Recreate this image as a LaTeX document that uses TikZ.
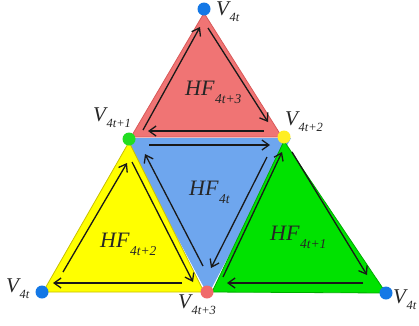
\documentclass[tikz,border=0pt]{standalone}
\usepackage{fontspec}
\setmainfont{Liberation Serif}
\usetikzlibrary{arrows.meta}
\definecolor{tred}{HTML}{F07474}
\definecolor{tredE}{HTML}{D85858}
\definecolor{tblue}{HTML}{6EA6EE}
\definecolor{tblueE}{HTML}{5A8ED8}
\definecolor{tyel}{HTML}{FFFF00}
\definecolor{tyelE}{HTML}{C8C000}
\definecolor{tgrn}{HTML}{00E200}
\definecolor{tgrnE}{HTML}{00A800}
\definecolor{dblue}{HTML}{1478E6}
\definecolor{dgrn}{HTML}{22DD22}
\definecolor{dyel}{HTML}{FFEE22}
\definecolor{dred}{HTML}{F06A6A}
\newcommand\vlab[1]{{\fontsize{21}{21}\selectfont\itshape V}\kern0.5pt\raisebox{-6pt}{\fontsize{12.5}{13}\selectfont\itshape #1}}
\newcommand\hflab[1]{{\fontsize{22}{22}\selectfont\itshape HF}\kern0.5pt\raisebox{-8pt}{\fontsize{13.5}{14}\selectfont\itshape #1}}
\tikzset{
  tri/.style={line width=0.8pt, line join=miter},
  cyc/.style={line width=1.3pt, color=black!90, -{Straight Barb[length=7pt,width=10pt]}},
  dot/.style={circle, inner sep=0pt, minimum size=13pt},
  lbl/.style={anchor=base west, inner sep=0pt, text=black!85},
}
\begin{document}
\begin{tikzpicture}[x=1pt,y=-1pt]
\useasboundingbox (0,0) rectangle (419,325);
% triangles
\fill[tblue] (124,138) -- (291,138) -- (208,295) -- cycle;
\fill[tred, draw=tredE, tri] (204,13) -- (282,137) -- (131,137) -- cycle;
\fill[tyel, draw=tyelE, tri] (129,142) -- (204,292) -- (43,292) -- cycle;
\fill[tgrn, draw=tgrnE, tri] (284,141) -- (386,293) -- (212,292) -- cycle;
% red cycle
\draw[cyc] (143,130) -- (200,27);
\draw[cyc] (208,28) -- (268,122);
\draw[cyc] (264,131) -- (148,131);
% blue cycle
\draw[cyc] (149,145) -- (270,145);
\draw[cyc] (267,157) -- (211,268);
\draw[cyc] (203,266) -- (145,154);
% yellow cycle
\draw[cyc] (63,272) -- (127,163);
\draw[cyc] (132,162) -- (193,282);
\draw[cyc] (182,283) -- (53,283);
% green cycle
\draw[cyc] (223,277) -- (282,152);
\draw[cyc] (292,152) -- (367,275);
\draw[cyc] (363,283) -- (227,283);
% dots
\node[dot, fill=dblue] (vt) at (204,9) {};
\node[dot, fill=dgrn] (v1) at (129,139) {};
\node[dot, fill=dyel] (v2) at (284,137) {};
\node[dot, fill=dblue] (vl) at (42,292) {};
\node[dot, fill=dred] (v3) at (207,292) {};
\node[dot, fill=dblue] (vr) at (386,293) {};
% vertex labels
\node[lbl] (lt) at (216,15) {\vlab{4t}};
\node[lbl] (l1) at (93,121) {\vlab{4t+1}};
\node[lbl] (l2) at (285,125) {\vlab{4t+2}};
\node[lbl] (ll) at (6,292) {\vlab{4t}};
\node[lbl] (l3) at (178,308) {\vlab{4t+3}};
\node[lbl] (lr) at (393,303) {\vlab{4t}};
% face labels
\node[lbl] (h3) at (185,95) {\hflab{4t+3}};
\node[lbl] (h0) at (189,195) {\hflab{4t}};
\node[lbl] (h2) at (100,247) {\hflab{4t+2}};
\node[lbl] (h1) at (270,240) {\hflab{4t+1}};
\end{tikzpicture}
\end{document}
